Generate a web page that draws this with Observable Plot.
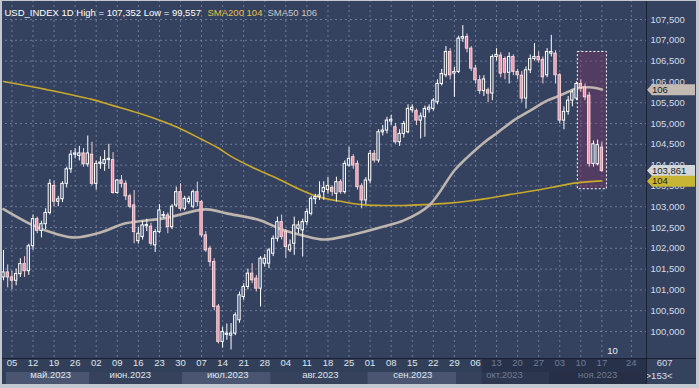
<!DOCTYPE html>
<html><head><meta charset="utf-8">
<script src="https://cdn.jsdelivr.net/npm/d3@7"></script>
<script src="https://cdn.jsdelivr.net/npm/@observablehq/plot@0.6"></script>
<style>
html,body{margin:0;padding:0;background:#34425f;}
#wrap{position:relative;width:699px;height:388px;overflow:hidden;}
#border{position:absolute;left:0;top:0;width:699px;height:388px;box-sizing:border-box;border-style:solid;border-color:#c3c7cf;border-width:1px 3px 4px 2px;pointer-events:none;}
</style></head><body><div id="wrap"><div id="border"></div></div>
<script>
// ---- data (trading-day index 0 = 03 May 2023 ... 142 = 17 Nov 2023) ----
const openP  = [101.30,101.42,101.30,101.22,101.38,101.62,101.45,102.05,102.70,102.42,102.58,102.85,103.50,103.12,103.18,103.55,103.90,104.25,104.22,104.28,104.02,104.25,103.55,104.03,104.03,104.12,104.12,103.33,103.63,103.55,103.25,103.03,102.17,102.27,102.53,102.52,102.07,102.39,102.77,102.79,102.51,103.03,103.35,102.95,103.11,103.00,103.35,103.11,102.31,101.99,101.67,100.60,99.75,99.92,99.90,99.95,100.27,100.83,101.07,101.39,101.27,101.03,101.63,101.63,101.87,102.23,102.63,102.39,101.95,102.11,102.47,102.43,102.63,102.83,103.18,103.23,103.35,103.40,103.45,103.31,103.59,103.35,103.99,104.19,104.03,103.49,103.15,103.63,104.27,104.11,104.79,104.83,105.05,104.91,104.55,104.75,104.79,105.32,105.30,105.07,105.15,105.33,105.35,105.51,105.95,106.16,106.72,106.20,106.24,107.04,107.08,106.80,106.32,106.04,105.78,105.80,105.72,106.60,106.63,106.55,106.22,106.60,106.24,106.15,105.60,106.28,106.55,106.60,106.53,106.16,106.68,106.68,106.16,105.07,105.28,105.55,105.60,105.95,105.87,105.67,104.03,104.02,104.42];
const highP  = [101.95,101.60,101.45,101.50,101.75,101.80,102.10,102.80,102.75,102.65,102.95,103.65,103.62,103.25,103.60,103.95,104.35,104.40,104.45,104.40,104.70,104.55,104.10,104.20,104.35,104.50,104.30,103.65,103.75,103.62,103.30,103.39,102.50,102.65,102.70,102.60,102.45,103.05,102.88,102.85,103.05,103.47,103.55,103.25,103.25,103.40,103.59,103.15,102.40,102.05,101.75,100.65,100.10,100.18,100.19,100.45,100.95,101.15,101.50,101.63,101.35,101.80,101.85,102.00,102.30,102.75,102.80,102.45,102.20,102.75,102.65,102.70,102.95,103.25,103.30,103.60,103.60,103.70,103.50,103.71,103.65,104.10,104.43,104.25,104.10,103.55,103.70,104.35,104.35,104.85,104.95,105.15,105.20,105.00,104.85,105.05,105.45,105.45,105.35,105.25,105.42,105.45,105.60,106.05,106.30,106.85,106.80,106.35,107.10,107.352,107.15,106.85,106.40,106.15,106.15,105.85,106.65,106.80,106.70,106.60,106.70,106.65,106.30,106.25,106.36,106.65,106.92,106.72,106.60,106.80,107.12,106.75,106.20,105.40,105.65,105.80,106.00,106.05,105.95,105.75,104.58,104.60,104.55];
const lowP   = [101.22,101.05,101.00,101.10,101.30,101.30,101.35,101.95,102.35,102.25,102.45,102.80,103.00,103.00,103.10,103.45,103.80,104.15,104.10,103.95,103.95,103.50,103.40,103.90,103.85,103.90,103.30,103.30,103.45,103.15,102.95,102.11,102.10,102.20,102.40,102.05,101.90,102.35,102.72,102.35,102.45,102.98,102.90,102.90,103.05,102.95,103.00,102.25,101.90,101.55,100.50,99.70,99.60,99.79,99.557,99.90,100.20,100.75,101.00,101.15,100.95,100.59,101.55,101.51,101.80,102.15,102.20,101.75,101.90,101.83,102.35,101.79,102.55,102.78,103.05,103.15,103.15,103.30,103.25,103.11,103.30,103.30,103.95,103.90,103.40,102.95,103.05,103.55,104.05,104.05,104.70,104.75,104.95,104.50,104.45,104.65,104.75,105.25,104.95,104.63,104.67,105.25,105.30,105.45,105.90,106.10,106.05,105.63,106.20,106.95,106.70,106.25,105.95,105.70,105.65,105.50,105.55,106.50,106.10,106.05,105.95,106.15,106.05,105.50,105.35,106.20,106.50,106.45,105.95,106.10,106.60,105.95,104.99,104.85,105.20,105.40,105.55,105.75,105.55,103.95,103.95,103.98,103.82];
const closeP = [101.42,101.30,101.22,101.38,101.62,101.45,102.05,102.70,102.42,102.58,102.85,103.55,103.12,103.18,103.55,103.90,104.25,104.28,104.28,104.02,104.28,103.55,104.03,104.06,104.12,104.15,103.33,103.63,103.55,103.25,103.00,102.39,102.35,102.55,102.56,102.11,102.39,102.91,102.80,102.51,103.00,103.35,102.95,103.19,103.19,103.35,103.11,102.31,101.95,101.67,100.59,99.75,99.99,99.95,99.95,100.39,100.87,101.07,101.39,101.23,101.03,101.75,101.75,101.95,102.23,102.63,102.27,102.03,102.07,102.55,102.55,102.63,102.87,103.19,103.23,103.27,103.45,103.50,103.36,103.59,103.35,104.03,104.15,103.99,103.47,103.15,103.63,104.27,104.11,104.79,104.83,105.07,105.09,104.55,104.75,104.99,105.35,105.38,105.07,105.17,105.35,105.38,105.55,105.95,106.19,106.72,106.16,106.24,107.04,107.08,106.80,106.32,106.04,105.78,106.06,105.72,106.60,106.65,106.20,106.22,106.60,106.24,106.16,105.60,106.28,106.55,106.60,106.52,106.11,106.72,106.72,106.16,105.07,105.28,105.55,105.75,105.95,105.85,105.63,104.03,104.50,104.48,103.861];

const sma200Idx = [0,10,21,26,32,37,41,47,51,54,59,65,70,75,80,85,90,95,100,105,110,115,120,125,130,135,140,142];
const sma200Val = [106.01,105.82,105.58,105.43,105.25,105.08,104.92,104.62,104.41,104.21,103.95,103.68,103.43,103.23,103.13,103.05,103.03,103.03,103.05,103.08,103.13,103.20,103.29,103.37,103.46,103.56,103.61,103.62];
const sma50Idx  = [0,7,12,17,23,29,38,47,49,53,61,66,71,76,82,90,95,101,107,110,114,117,121,125,129,132,136,139,142];
const sma50Val  = [102.94,102.55,102.36,102.26,102.38,102.60,102.72,102.93,102.93,102.84,102.67,102.45,102.31,102.21,102.31,102.52,102.67,103.03,103.87,104.18,104.54,104.76,105.07,105.31,105.55,105.67,105.84,105.87,105.82];

const dayTickIdx = [2,7,12,17,22,27,32,37,42,47,52,57,62,67,72,77,82,87,92,97,102,107,112,117,122,127,132,137,142,149];
const dayTickLbl = ["05","12","19","26","02","09","16","23","30","07","14","21","28","04","11","18","25","01","08","15","22","29","06","13","20","27","03","10","17","24"];
const futureFrom = 113.6;

const monthLbl   = ["май.2023","июн.2023","июл.2023","авг.2023","сен.2023","окт.2023","ноя.2023"];
const monthLblIdx = [11.2,30.1,53.2,75.2,97.1,118.9,141.0];
const monthStart = [0.7,20.5,42.5,63.5,86.5,107.5,129.5];

const yTicks = [100,100.5,101,101.5,102,102.5,103,103.5,104,104.5,105,105.5,106,106.5,107,107.5];
const highlightBox = [{x1:136.3, x2:143.2, y1:103.42, y2:106.72}];
const priceTags = [
  {v:105.80, text:"106", fill:"#c3bbb3"},
  {v:103.861, text:"103,861", fill:"#d3d6da"},
  {v:103.60, text:"104", fill:"#c9b534"}
];
const xDomain = [-0.712, 152.59];
const yDomain = [99.351, 107.957];

// ---- build ----
const candles = closeP.map((c,i)=>({i, o:openP[i], h:highP[i], l:lowP[i], c, up: c>=openP[i]}));
const sma200 = sma200Idx.map((i,k)=>({i, v:sma200Val[k]}));
const sma50  = sma50Idx.map((i,k)=>({i, v:sma50Val[k]}));
const dayTicks = dayTickIdx.map((i,k)=>({i, label:dayTickLbl[k], future: i>futureFrom}));
const months = monthLbl.map((m,k)=>({i:monthLblIdx[k], label:m, future: monthLblIdx[k]>futureFrom}));

const FONT = "'Liberation Sans', Arial, sans-serif";
const gridC = "#7f8ca8";
const chart = Plot.plot({
  width: 699, height: 388,
  marginLeft: 0, marginRight: 53, marginTop: 0, marginBottom: 30,
  x: {domain: xDomain, axis: null},
  y: {domain: yDomain, axis: null},
  style: {background: "#34425f", fontFamily: FONT, fontSize: "9.5px", overflow: "visible"},
  marks: [
    Plot.gridY(yTicks, {stroke: gridC, strokeOpacity: 0.75, strokeDasharray: "2,3"}),
    Plot.gridX(dayTickIdx, {stroke: gridC, strokeOpacity: 0.75, strokeDasharray: "2,3"}),
    Plot.rect(highlightBox, {x1:"x1", x2:"x2", y1:"y1", y2:"y2", fill:"#7a3563", fillOpacity:0.45, stroke:"#ffffff", strokeDasharray:"2,2", strokeWidth:1}),
    Plot.line(sma200, {x:"i", y:"v", stroke:"#c9a92c", strokeWidth:1.6, curve:"catmull-rom"}),
    Plot.line(sma50, {x:"i", y:"v", stroke:"#bdb5ae", strokeWidth:2.6, curve:"catmull-rom"}),
    Plot.ruleX(candles, {x:"i", y1:"l", y2:"h", stroke: d=>d.up?"#ffffff":"#f3ccd4", strokeWidth:1}),
    Plot.rect(candles, {x1: d=>d.i-0.28, x2: d=>d.i+0.28, y1:"o", y2:"c", fill: d=>d.up?"#3a4a6a":"#e893a6", stroke: d=>d.up?"#ffffff":"#f6d6dd", strokeWidth:1}),
    Plot.axisY(yTicks, {anchor:"right", tickSize:0, tickPadding:4, tickFormat: d=>d.toFixed(3).replace(".", ","), fill:"#d5dbe5", fontSize:9.5}),
    Plot.text(dayTicks, {x:"i", text:"label", frameAnchor:"bottom", dy:7, fill: d=>d.future?"#6f7b93":"#dfe5ee", fontSize:9.5}),
    Plot.text(months, {x:"i", text:"label", frameAnchor:"bottom", dy:19, fill: d=>d.future?"#6f7b93":"#dfe5ee", fontSize:9.5}),
    Plot.text(["USD_INDEX 1D High = 107,352 Low = 99,557"], {frameAnchor:"top-left", dx:4, dy:9, textAnchor:"start", fill:"#ffffff", fontSize:9.5}),
    Plot.text(["SMA200 104"], {frameAnchor:"top-left", dx:207, dy:9, textAnchor:"start", fill:"#e6c14b", fontSize:9.5}),
    Plot.text(["SMA50 106"], {frameAnchor:"top-left", dx:267, dy:9, textAnchor:"start", fill:"#c9c9c9", fontSize:9.5}),
    Plot.text(["10"], {x:[144.5], frameAnchor:"bottom", dy:-5, fill:"#e6ebf2", fontSize:9.5}),
    Plot.text(["607"], {frameAnchor:"bottom-right", dx:26, dy:7, fill:"#d8dde6", fontSize:9.5}),
    Plot.text([">153<"], {frameAnchor:"bottom-right", dx:26, dy:20, fill:"#d8dde6", fontSize:9.5})
  ]
});

const svg = d3.select(chart);
const xs = chart.scale("x"), ys = chart.scale("y");
const px = v => xs.apply(v);
const plotR = px(xDomain[1]);
const bg = svg.insert("g", "g");
const futX = px(futureFrom);
// day row
bg.append("rect").attr("x",0).attr("y",358).attr("width",futX).attr("height",14).attr("fill","#323f59");
bg.append("rect").attr("x",futX).attr("y",358).attr("width",plotR-futX).attr("height",14).attr("fill","#28314a");
// month row
const monthFill = ["#4a5571","#36425c","#4a5571","#36425c","#4a5571","#36425c","#262f45"];
monthStart.forEach((s,k)=>{
  const x0 = px(s), x1 = k<monthStart.length-1 ? px(monthStart[k+1]) : plotR;
  bg.append("rect").attr("x",x0).attr("y",372).attr("width",x1-x0).attr("height",14).attr("fill",monthFill[k]);
});
bg.append("rect").attr("x",futX).attr("y",372).attr("width",px(monthStart[6])-futX).attr("height",14).attr("fill","#2d3750");
bg.append("rect").attr("x",0).attr("y",372).attr("width",px(monthStart[0])).attr("height",14).attr("fill","#323f59");
// right panel bottom
bg.append("rect").attr("x",plotR).attr("y",358).attr("width",699-plotR).attr("height",30).attr("fill","#34425e");

// separators
const fg = svg.append("g");
fg.append("line").attr("x1",0).attr("x2",699).attr("y1",358.5).attr("y2",358.5).attr("stroke","#1a2131");
fg.append("line").attr("x1",plotR+0.5).attr("x2",plotR+0.5).attr("y1",0).attr("y2",388).attr("stroke","#1a2131");

// price tags on the right axis
priceTags.forEach(t=>{
  const y = ys.apply(t.v);
  const x0 = plotR+1, x1 = 695, h = 5.5;
  fg.append("path")
    .attr("d", `M${x0},${y} L${x0+5},${y-h} L${x1},${y-h} L${x1},${y+h} L${x0+5},${y+h} Z`)
    .attr("fill", t.fill);
  fg.append("text").attr("x", x0+5).attr("y", y).attr("dy","0.34em")
    .attr("text-anchor","start")
    .attr("fill","#1c1c1c").attr("font-size","9.5px").attr("font-family",FONT).text(t.text);
});

document.getElementById("wrap").prepend(chart);
</script>
</body></html>
